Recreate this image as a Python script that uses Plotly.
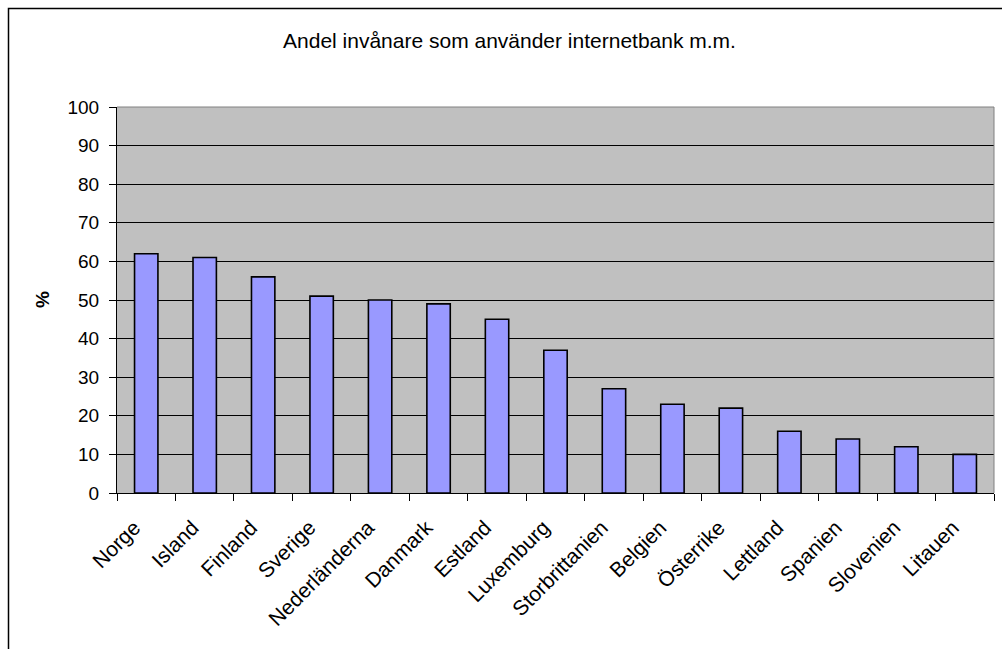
import plotly.graph_objects as go

# Share of inhabitants using internet banking, per country (%)
countries = ["Norge", "Island", "Finland", "Sverige", "Nederländerna", "Danmark",
             "Estland", "Luxemburg", "Storbrittanien", "Belgien", "Österrike",
             "Lettland", "Spanien", "Slovenien", "Litauen"]
shares = [62, 61, 56, 51, 50, 49, 45, 37, 27, 23, 22, 16, 14, 12, 10]
y_ticks = list(range(0, 101, 10))

title_text = "Andel invånare som använder internetbank m.m."
y_title = "%"

FONT = "Liberation Sans, Arial, sans-serif"

fig = go.Figure(
    go.Bar(
        x=countries,
        y=shares,
        marker=dict(color="#9999FF", line=dict(color="#000000", width=1.6)),
        hoverinfo="x+y",
    )
)

W, H = 1002, 649
L, R, T, B = 117, 8, 107, 156

fig.update_layout(
    width=W,
    height=H,
    margin=dict(l=L, r=R, t=T, b=B),
    paper_bgcolor="white",
    plot_bgcolor="#C0C0C0",
    bargap=0.6,
    showlegend=False,
    font=dict(family=FONT, size=19, color="black"),
    title=dict(
        text=title_text,
        x=509.5 / W,
        xanchor="center",
        y=1 - 41 / H,
        yanchor="middle",
        font=dict(family=FONT, size=21, color="black"),
    ),
)

fig.update_xaxes(
    type="category",
    tickangle=-45,
    tickson="boundaries",
    ticks="outside",
    ticklen=7,
    tickcolor="black",
    showline=True,
    linecolor="black",
    linewidth=1,
    showgrid=False,
    mirror=False,
    ticklabelstandoff=13,
    ticklabelshift=-12,
    tickfont=dict(family=FONT, size=21, color="black"),
)

fig.update_yaxes(
    range=[0, 100],
    tickvals=y_ticks,
    ticks="outside",
    ticklen=7,
    tickcolor="black",
    showline=True,
    linecolor="black",
    linewidth=1,
    showgrid=True,
    gridcolor="black",
    gridwidth=1,
    zeroline=False,
    ticklabelstandoff=6,
    tickfont=dict(family=FONT, size=19, color="black"),
)

pw, ph = W - L - R, H - T - B

# Plot-area border on top and right (grey)
fig.add_shape(type="line", xref="paper", yref="paper", x0=0, x1=1, y0=1, y1=1,
              line=dict(color="#808080", width=1))
fig.add_shape(type="line", xref="paper", yref="paper", x0=1, x1=1, y0=0, y1=1,
              line=dict(color="#808080", width=1))

# Outer chart frame
fig.add_shape(type="rect", xref="paper", yref="paper",
              x0=(8.5 - L) / pw, x1=(W + 10 - L) / pw,
              y0=(H - B - (H + 10)) / ph, y1=(H - B - 8.5) / ph,
              line=dict(color="black", width=1.5), fillcolor="rgba(0,0,0,0)",
              layer="above")

# Y axis title
fig.add_annotation(text="<b>" + y_title + "</b>", xref="paper", yref="paper",
                   x=(42 - L) / pw, y=(H - B - 300) / ph, textangle=-90,
                   showarrow=False, xanchor="center", yanchor="middle",
                   font=dict(family=FONT, size=19, color="black"))

fig.write_html("out.html")
